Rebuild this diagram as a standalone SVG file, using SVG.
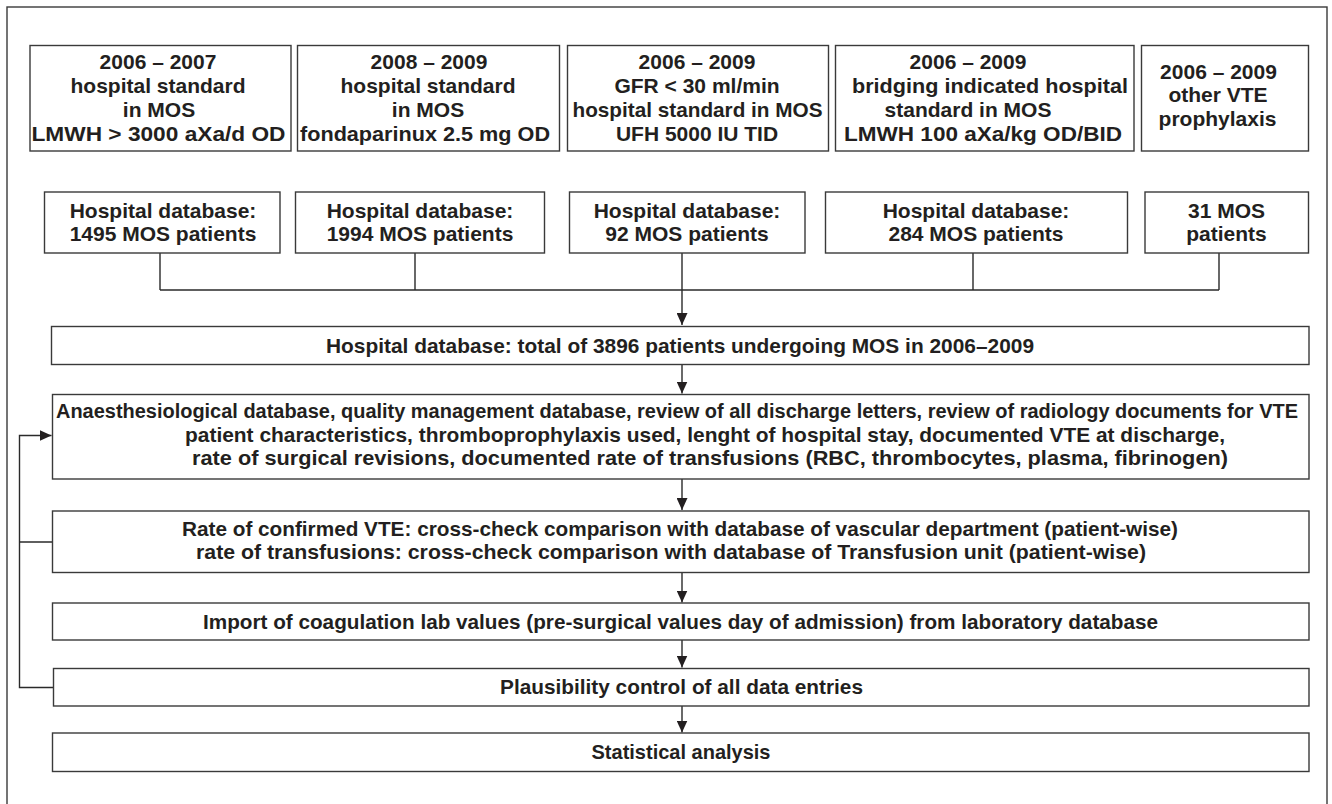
<svg xmlns="http://www.w3.org/2000/svg" width="1332" height="804" viewBox="0 0 1332 804">
<style>
.box{fill:#ffffff;stroke:#3a3a3a;stroke-width:1.4}
.ln{fill:none;stroke:#2a2a2a;stroke-width:1.4}
text{font-family:"Liberation Sans",Arial,sans-serif;font-weight:bold;font-size:21px;fill:#231f20;text-anchor:middle}
.st{text-anchor:start}
</style>
<defs>
<marker id="ah" markerWidth="12" markerHeight="11" refX="12" refY="5.5" orient="auto" markerUnits="userSpaceOnUse">
<path d="M0,0 L12,5.5 L0,11 Z" fill="#231f20"/>
</marker>
</defs>
<rect x="0" y="0" width="1332" height="804" fill="#ffffff"/>
<rect x="7" y="7" width="1320" height="830" fill="none" stroke="#3a3a3a" stroke-width="1.4"/>

<g id="connectors">
<path class="ln" d="M160,253 V290 M415,253 V290 M973,253 V290 M1219,253 V290 M160,290 H1219"/>
<path class="ln" d="M682,253 V325" marker-end="url(#ah)"/>
<path class="ln" d="M682,364.5 V393.5" marker-end="url(#ah)"/>
<path class="ln" d="M682,479 V510" marker-end="url(#ah)"/>
<path class="ln" d="M682,572.5 V602.5" marker-end="url(#ah)"/>
<path class="ln" d="M682,640 V667.5" marker-end="url(#ah)"/>
<path class="ln" d="M682,706 V732.5" marker-end="url(#ah)"/>
<path class="ln" d="M53,687.5 H19.5 V435.5 H51.5" marker-end="url(#ah)"/>
<path class="ln" d="M52.5,542 H19.5"/>
</g>

<g id="top1">
<rect class="box" x="30" y="45.5" width="261" height="105.5"/>
<text x="158" y="68.5">2006 – 2007</text>
<text x="158" y="92.5">hospital standard</text>
<text x="159" y="116.5">in MOS</text>
<text x="158.5" y="140.5" textLength="254" lengthAdjust="spacingAndGlyphs">LMWH &gt; 3000 aXa/d OD</text>
</g>
<g id="top2">
<rect class="box" x="297.5" y="45.5" width="262" height="105.5"/>
<text x="429" y="68.5">2008 – 2009</text>
<text x="428" y="92.5">hospital standard</text>
<text x="428" y="116.5">in MOS</text>
<text x="425" y="140.5" textLength="250" lengthAdjust="spacingAndGlyphs">fondaparinux 2.5 mg OD</text>
</g>
<g id="top3">
<rect class="box" x="567.5" y="45.5" width="261" height="105.5"/>
<text x="697" y="68.5">2006 – 2009</text>
<text x="697" y="92.5">GFR &lt; 30 ml/min</text>
<text x="697.5" y="116.5" textLength="250" lengthAdjust="spacingAndGlyphs">hospital standard in MOS</text>
<text x="697" y="140.5">UFH 5000 IU TID</text>
</g>
<g id="top4">
<rect class="box" x="835.5" y="45.5" width="298.5" height="105.5"/>
<text x="968" y="68.5">2006 – 2009</text>
<text x="990" y="92.5" textLength="276" lengthAdjust="spacingAndGlyphs">bridging indicated hospital</text>
<text x="968" y="116.5">standard in MOS</text>
<text x="983" y="140.5" textLength="278" lengthAdjust="spacingAndGlyphs">LMWH 100 aXa/kg OD/BID</text>
</g>
<g id="top5">
<rect class="box" x="1141.5" y="45.5" width="167" height="105.5"/>
<text x="1218.5" y="78.5">2006 – 2009</text>
<text x="1218" y="102">other VTE</text>
<text x="1217.5" y="125.5">prophylaxis</text>
</g>

<g id="db1">
<rect class="box" x="44.5" y="192" width="235.5" height="61"/>
<text x="163" y="217.5">Hospital database:</text>
<text x="163" y="241">1495 MOS patients</text>
</g>
<g id="db2">
<rect class="box" x="295.5" y="192" width="249" height="61"/>
<text x="420" y="217.5">Hospital database:</text>
<text x="420" y="241">1994 MOS patients</text>
</g>
<g id="db3">
<rect class="box" x="569.5" y="192" width="235.5" height="61"/>
<text x="687" y="217.5">Hospital database:</text>
<text x="687" y="241">92 MOS patients</text>
</g>
<g id="db4">
<rect class="box" x="825.5" y="192" width="302" height="61"/>
<text x="976" y="217.5">Hospital database:</text>
<text x="976" y="241">284 MOS patients</text>
</g>
<g id="db5">
<rect class="box" x="1145" y="192" width="163.5" height="61"/>
<text x="1226.5" y="217.5">31 MOS</text>
<text x="1226.5" y="241">patients</text>
</g>

<g id="total">
<rect class="box" x="51.5" y="326.5" width="1257.5" height="38"/>
<text x="680" y="352.5" textLength="708" lengthAdjust="spacingAndGlyphs">Hospital database: total of 3896 patients undergoing MOS in 2006–2009</text>
</g>

<g id="sources">
<rect class="box" x="52.5" y="394.5" width="1256.5" height="84.5"/>
<text class="st" x="56" y="418" font-size="19.5" style="font-size:19.5px" textLength="1242" lengthAdjust="spacingAndGlyphs">Anaesthesiological database, quality management database, review of all discharge letters, review of radiology documents for VTE</text>
<text class="st" x="185" y="441.5" textLength="1040" lengthAdjust="spacingAndGlyphs">patient characteristics, thromboprophylaxis used, lenght of hospital stay, documented VTE at discharge,</text>
<text class="st" x="192" y="465" textLength="1036" lengthAdjust="spacingAndGlyphs">rate of surgical revisions, documented rate of transfusions (RBC, thrombocytes, plasma, fibrinogen)</text>
</g>

<g id="crosscheck">
<rect class="box" x="52.5" y="511" width="1256.5" height="61.5"/>
<text class="st" x="182" y="535.5" textLength="996" lengthAdjust="spacingAndGlyphs">Rate of confirmed VTE: cross-check comparison with database of vascular department (patient-wise)</text>
<text class="st" x="196" y="558.5" textLength="950" lengthAdjust="spacingAndGlyphs">rate of transfusions: cross-check comparison with database of Transfusion unit (patient-wise)</text>
</g>

<g id="import">
<rect class="box" x="52.5" y="603" width="1256.5" height="37"/>
<text x="680.5" y="628.5" textLength="955" lengthAdjust="spacingAndGlyphs">Import of coagulation lab values (pre-surgical values day of admission) from laboratory database</text>
</g>

<g id="plausibility">
<rect class="box" x="53.5" y="668.5" width="1255.5" height="37.5"/>
<text x="681.5" y="694" textLength="363" lengthAdjust="spacingAndGlyphs">Plausibility control of all data entries</text>
</g>

<g id="statistics">
<rect class="box" x="52.5" y="733" width="1256.5" height="38.5"/>
<text x="681" y="759" textLength="179" lengthAdjust="spacingAndGlyphs">Statistical analysis</text>
</g>
</svg>
